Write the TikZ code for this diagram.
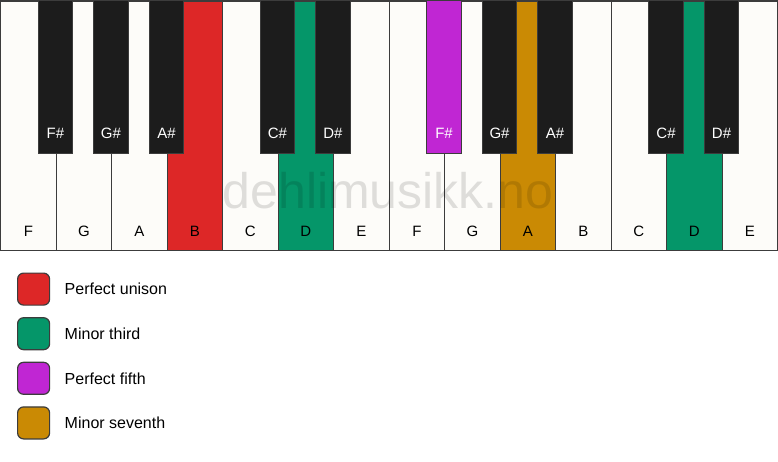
\documentclass[tikz,border=0pt]{standalone}
\usepackage{fontspec}
\setmainfont{Liberation Sans}
\usetikzlibrary{calc}
\definecolor{keywhite}{RGB}{253,252,249}
\definecolor{keyblack}{RGB}{28,28,28}
\definecolor{keyline}{RGB}{60,60,60}
\definecolor{unison}{RGB}{221,39,39}
\definecolor{third}{RGB}{5,150,105}
\definecolor{fifth}{RGB}{192,38,211}
\definecolor{seventh}{RGB}{202,138,4}

\begin{document}
\begin{tikzpicture}[
    x=1pt, y=-1pt,
    white key/.style={draw=keyline, line width=1.2pt, inner sep=0pt, anchor=north west,
        minimum width=55.5pt, minimum height=249pt},
    black key/.style={draw=keyline, line width=0.8pt, inner sep=0pt, anchor=north,
        minimum width=34.5pt, minimum height=153pt},
    white label/.style={font=\fontsize{15}{15}\selectfont, text=black},
    black label/.style={font=\fontsize{15}{15}\selectfont, text=white},
    legend box/.style={draw=keyline, line width=1.2pt, rounded corners=6pt, inner sep=0pt,
        minimum size=32pt, anchor=north west},
    legend text/.style={font=\fontsize{16}{16}\selectfont, anchor=west},
    every node/.style={color=black}
    ]

    % page
    \useasboundingbox[fill=white] (0,0) rectangle (778,461);
    % white keys
    \foreach \i/\note/\col in {0/F/keywhite, 1/G/keywhite, 2/A/keywhite, 3/B/unison,
        4/C/keywhite, 5/D/third, 6/E/keywhite, 7/F/keywhite, 8/G/keywhite,
        9/A/seventh, 10/B/keywhite, 11/C/keywhite, 12/D/third, 13/E/keywhite} {
        \node[white key, fill=\col] (w\i) at (\i*55.5, 0.6) {};
        \node[white label] (wl\i) at ($(w\i.south)+(0,-19.5)$) {\note};
    }
    % watermark
    \node[font=\fontsize{50}{50}\selectfont, text=black, text opacity=0.12] (mark)
        at (388, 191) {dehlimusikk.no};
    % black keys
    \foreach \b/\note/\col in {1/F\#/keyblack, 2/G\#/keyblack, 3/A\#/keyblack,
        5/C\#/keyblack, 6/D\#/keyblack, 8/F\#/fifth, 9/G\#/keyblack,
        10/A\#/keyblack, 12/C\#/keyblack, 13/D\#/keyblack} {
        \node[black key, fill=\col] (b\b) at (\b*55.5, 0) {};
        \node[black label] (bl\b) at ($(b\b.south)+(0,-20)$) {\note};
    }
    % top edge
    \draw[keyline, line width=1.2pt] (w0.north west) -- (w13.north east);
    % legend
    \foreach \k/\col/\name in {0/unison/Perfect unison, 1/third/Minor third,
        2/fifth/Perfect fifth, 3/seventh/Minor seventh} {
        \node[legend box, fill=\col] (box\k) at (17, 272.5+\k*44.6) {};
        \node[legend text] (txt\k) at ($(box\k.east)+(11,0)$) {\name};
    }
\end{tikzpicture}
\end{document}
